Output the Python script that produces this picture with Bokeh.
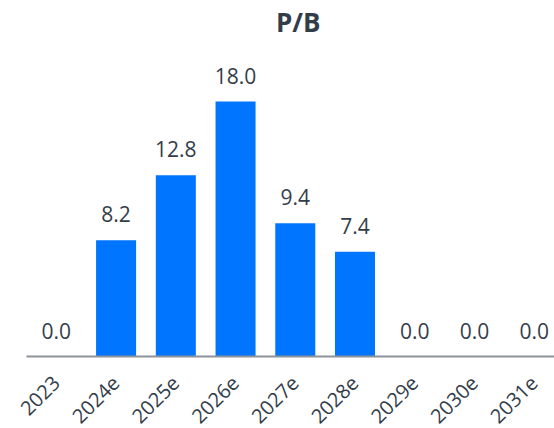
from math import pi

from bokeh.core.properties import value
from bokeh.embed import file_html
from bokeh.models import ColumnDataSource, FixedTicker, Label, Range1d
from bokeh.plotting import figure
from bokeh.resources import INLINE

# Price-to-book ratio per fiscal year (e = estimate)
years = ["2023", "2024e", "2025e", "2026e", "2027e", "2028e", "2029e", "2030e", "2031e"]
pb_values = [0.0, 8.2, 12.8, 18.0, 9.4, 7.4, 0.0, 0.0, 0.0]

FONT = "Open Sans"
TEXT_COLOR = "#333d4a"
BAR_COLOR = "#0075FF"

idx = list(range(len(years)))
source = ColumnDataSource(dict(
    x=idx,
    top=pb_values,
    label=[f"{v:.1f}" for v in pb_values],
))

p = figure(
    frame_width=528,
    frame_height=356,
    output_backend="svg",
    toolbar_location=None,
    x_range=Range1d(-0.5, 8.34),
    y_range=Range1d(0, 25.13),
    min_border_left=26,
    min_border_right=0,
    min_border_top=0,
    min_border_bottom=0,
)

p.vbar(x="x", top="top", width=0.67, bottom=0, source=source,
       fill_color=BAR_COLOR, line_color=None)

p.text(x="x", y="top", text="label", source=source,
       text_align="center", text_baseline="alphabetic", y_offset=-26,
       text_font=value(FONT), text_font_size="21px", text_color=TEXT_COLOR)

p.add_layout(Label(x=4.05, y=23.6, text="P/B", text_align="center",
                   text_baseline="middle", text_font=FONT,
                   text_font_size="26px", text_font_style="bold",
                   text_color=TEXT_COLOR))

p.yaxis.visible = False
p.xgrid.visible = False
p.ygrid.visible = False
p.outline_line_color = None

ax = p.xaxis[0]
ax.ticker = FixedTicker(ticks=idx)
ax.major_label_overrides = {i: y for i, y in enumerate(years)}
ax.major_label_orientation = pi / 4
ax.major_label_text_font = FONT
ax.major_label_text_font_size = "20px"
ax.major_label_text_color = TEXT_COLOR
ax.major_tick_line_color = None
ax.minor_tick_line_color = None
ax.axis_line_color = "#8c939b"
ax.axis_line_width = 2
ax.major_label_standoff = 17

open("out.html", "w").write(file_html(p, INLINE))
